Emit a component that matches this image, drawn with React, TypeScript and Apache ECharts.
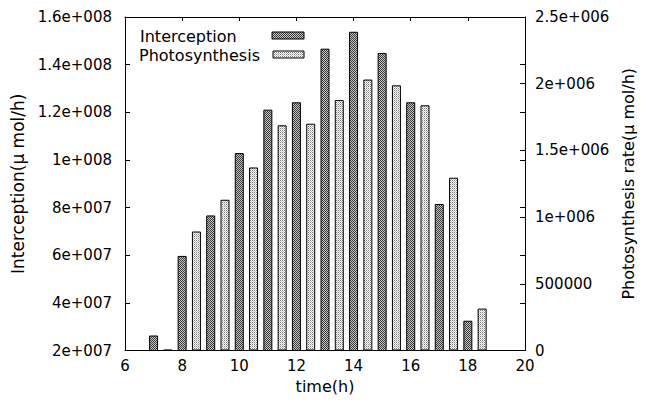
import React, { useEffect, useRef } from 'react';
import * as echarts from 'echarts';

// Interception (left axis), plotted at whole hours
const interceptionTimes = [7, 8, 9, 10, 11, 12, 13, 14, 15, 16, 17, 18];
const interceptionValues = [2.63e7, 5.97e7, 7.67e7, 1.029e8, 1.211e8, 1.242e8, 1.467e8, 1.538e8, 1.449e8, 1.242e8, 8.15e7, 3.25e7];

// Photosynthesis rate (right axis), plotted at half hours
const photoTimes = [7.5, 8.5, 9.5, 10.5, 11.5, 12.5, 13.5, 14.5, 15.5, 16.5, 17.5, 18.5];
const photoValues = [5000, 8.92e5, 1.13e6, 1.372e6, 1.688e6, 1.70e6, 1.878e6, 2.031e6, 1.988e6, 1.838e6, 1.295e6, 3.14e5];

const seriesNames = ['Interception', 'Photosynthesis'];
const xName = 'time(h)';
const leftName = 'Interception(μ mol/h)';
const rightName = 'Photosynthesis rate(μ mol/h)';

const FONT = 'DejaVu Sans';

function gfmt(v: number): string {
  if (v === 0) return '0';
  const e = Math.floor(Math.log10(Math.abs(v)) + 1e-9);
  if (e < 6 && e >= -4) return String(Math.round(v));
  const m = v / Math.pow(10, e);
  const ms = String(parseFloat(m.toFixed(5)));
  return ms + 'e' + (e >= 0 ? '+' : '-') + String(Math.abs(e)).padStart(3, '0');
}

function makePattern(pixels: string[][]): any {
  const h = pixels.length;
  const w = pixels[0].length;
  const c = document.createElement('canvas');
  c.width = w;
  c.height = h;
  const ctx = c.getContext('2d')!;
  for (let y = 0; y < h; y++) {
    for (let x = 0; x < w; x++) {
      ctx.fillStyle = pixels[y][x];
      ctx.fillRect(x, y, 1, 1);
    }
  }
  return { image: c, repeat: 'repeat', imageWidth: w, imageHeight: h };
}

export default function App() {
  const ref = useRef<HTMLDivElement>(null);

  useEffect(() => {
    if (!ref.current) return;
    const chart = echarts.init(ref.current, undefined, { renderer: 'svg' });

    const darkPattern = makePattern([
      ['#3a3a3a', '#c4c4c4'],
      ['#c4c4c4', '#3a3a3a'],
    ]);
    const lightPattern = makePattern([
      ['#7a7a7a', '#ffffff'],
      ['#ffffff', '#c0c0c0'],
    ]);

    const labelStyle = { color: '#000', fontFamily: FONT, fontSize: 15 };
    const nameStyle = { color: '#000', fontFamily: FONT, fontSize: 16 };
    const line = { show: true, lineStyle: { color: '#000', width: 1 } };

    chart.setOption({
      animation: false,
      backgroundColor: '#fff',
      grid: { left: 125, right: 120, top: 17, bottom: 49.5, containLabel: false },
      xAxis: [
        {
          type: 'value', position: 'bottom', min: 6, max: 20, interval: 2,
          axisLine: line,
          axisTick: { show: true, inside: true, length: 4, lineStyle: { color: '#000' } },
          axisLabel: { ...labelStyle, margin: 8 },
          splitLine: { show: false },
          name: xName, nameLocation: 'middle', nameGap: 27, nameTextStyle: nameStyle,
        },
        {
          type: 'value', position: 'top', min: 6, max: 20, interval: 2,
          axisLine: line,
          axisTick: { show: true, inside: true, length: 4, lineStyle: { color: '#000' } },
          axisLabel: { show: false },
          splitLine: { show: false },
        },
      ],
      yAxis: [
        {
          type: 'value', position: 'left', min: 2e7, max: 1.6e8, interval: 2e7,
          axisLine: line,
          axisTick: { show: true, inside: true, length: 5, lineStyle: { color: '#000' } },
          axisLabel: { ...labelStyle, margin: 13, formatter: (v: number) => gfmt(v) },
          splitLine: { show: false },
          name: leftName, nameLocation: 'middle', nameRotate: 90, nameGap: 97, nameTextStyle: { ...nameStyle, fontSize: 17 },
        },
        {
          type: 'value', position: 'right', min: 0, max: 2.5e6, interval: 5e5,
          axisLine: line,
          axisTick: { show: true, inside: true, length: 5, lineStyle: { color: '#000' } },
          axisLabel: { ...labelStyle, margin: 10, formatter: (v: number) => gfmt(v) },
          splitLine: { show: false },
          name: rightName, nameLocation: 'middle', nameRotate: 90, nameGap: 94, nameTextStyle: nameStyle,
        },
        {
          type: 'value', position: 'right', offset: 0, min: 2e7, max: 1.6e8, interval: 2e7,
          axisLine: { show: false },
          axisTick: { show: true, inside: true, length: 5, lineStyle: { color: '#000' } },
          axisLabel: { show: false },
          splitLine: { show: false },
        },
      ],
      series: [
        {
          name: seriesNames[0], type: 'bar', xAxisIndex: 0, yAxisIndex: 0, clip: true,
          barWidth: 9,
          data: interceptionTimes.map((t, i) => [t, interceptionValues[i]]),
          itemStyle: { color: darkPattern, borderColor: '#000', borderWidth: 1 },
        },
        {
          name: seriesNames[1], type: 'bar', xAxisIndex: 1, yAxisIndex: 1, clip: true,
          barWidth: 9,
          data: photoTimes.map((t, i) => [t, photoValues[i]]),
          itemStyle: { color: lightPattern, borderColor: '#000', borderWidth: 1 },
        },
      ],
      graphic: [
        { type: 'text', left: 140, top: 28, style: { text: seriesNames[0], fill: '#000', font: `16px "${FONT}"` } },
        { type: 'text', left: 139, top: 47, style: { text: seriesNames[1], fill: '#000', font: `16px "${FONT}"` } },
        { type: 'rect', shape: { x: 272, y: 32, width: 32, height: 7 }, style: { fill: darkPattern, stroke: '#000', lineWidth: 1 } },
        { type: 'rect', shape: { x: 273, y: 51, width: 31, height: 7 }, style: { fill: lightPattern, stroke: '#000', lineWidth: 1 } },
      ],
    });

    return () => chart.dispose();
  }, []);

  return <div ref={ref} style={{ position: 'fixed', left: 0, top: 0, width: 645, height: 400, background: '#fff' }} />;
}
